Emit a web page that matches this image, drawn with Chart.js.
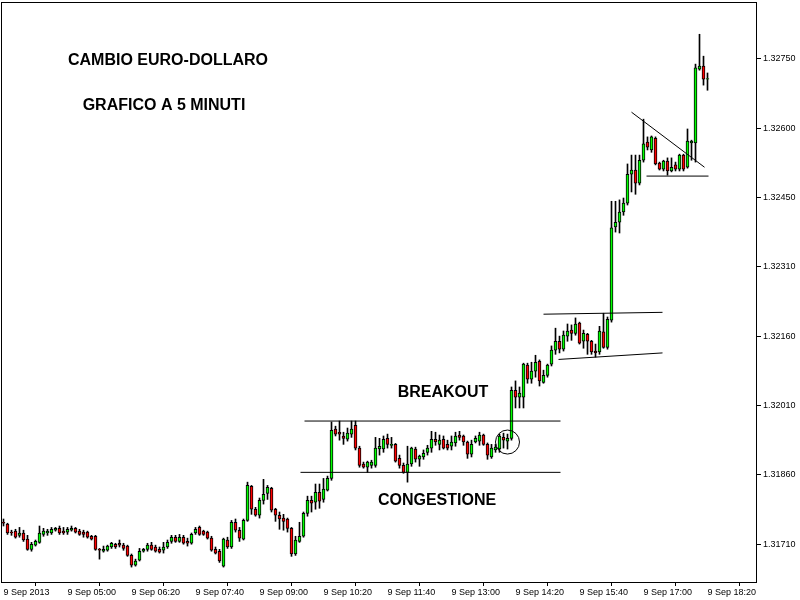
<!DOCTYPE html>
<html lang="it">
<head>
<meta charset="utf-8" />
<title>Cambio Euro-Dollaro 5 minuti</title>
<script src="https://cdn.jsdelivr.net/npm/chart.js@4.4.1/dist/chart.umd.min.js"></script>
<style>
  body { margin: 0; background: #fff; }
  canvas { display: block; }
</style>
</head>
<body>
<canvas id="eurusd" width="800" height="600"></canvas>
<script>
// candele da 5 minuti, dalle 03:40 alle 18:20 del 9 settembre 2013
var opens = [
  1.31757,1.31753,1.31736,1.31738,1.31729,1.31734,1.31721,1.31699,1.31708,1.31714,
  1.31731,1.31734,1.31734,1.31740,1.31744,1.31738,1.31736,1.31740,1.31744,1.31738,
  1.31736,1.31736,1.31727,1.31727,1.31699,1.31695,1.31697,1.31704,1.31710,1.31712,
  1.31708,1.31706,1.31686,1.31665,1.31676,1.31695,1.31699,1.31708,1.31704,1.31699,
  1.31697,1.31704,1.31716,1.31725,1.31716,1.31725,1.31716,1.31712,1.31734,1.31746,
  1.31738,1.31736,1.31723,1.31699,1.31695,1.31663,1.31719,1.31704,1.31757,1.31740,
  1.31721,1.31761,1.31834,1.31785,1.31772,1.31804,1.31819,1.31830,1.31785,1.31772,
  1.31766,1.31764,1.31744,1.31689,1.31716,1.31727,1.31776,1.31804,1.31800,1.31821,
  1.31806,1.31826,1.31851,1.31957,1.31950,1.31942,1.31935,1.31946,1.31965,1.31916,
  1.31882,1.31875,1.31879,1.31879,1.31914,1.31914,1.31937,1.31922,1.31924,1.31894,
  1.31879,1.31864,1.31882,1.31914,1.31892,1.31897,1.31907,1.31916,1.31935,1.31924,
  1.31935,1.31924,1.31920,1.31927,1.31944,1.31942,1.31929,1.31903,1.31929,1.31931,
  1.31944,1.31924,1.31897,1.31912,1.31914,1.31939,1.31931,1.31937,1.32040,1.32025,
  1.32025,1.32094,1.32064,1.32081,1.32102,1.32057,1.32072,1.32096,1.32126,1.32145,
  1.32128,1.32156,1.32169,1.32162,1.32184,1.32145,1.32160,1.32145,1.32124,1.32122,
  1.32165,1.32132,1.32190,1.32390,1.32400,1.32422,1.32441,1.32503,1.32512,1.32484,
  1.32533,1.32572,1.32555,1.32580,1.32527,1.32514,1.32531,1.32510,1.32523,1.32514,
  1.32544,1.32518,1.32570,1.32570,1.32728,1.32735,1.32707
];
var highs = [
  1.31764,1.31755,1.31740,1.31742,1.31746,1.31740,1.31729,1.31714,1.31719,1.31749,
  1.31744,1.31742,1.31746,1.31746,1.31749,1.31746,1.31746,1.31749,1.31746,1.31742,
  1.31740,1.31738,1.31729,1.31729,1.31701,1.31706,1.31708,1.31714,1.31712,1.31719,
  1.31712,1.31708,1.31689,1.31678,1.31701,1.31701,1.31712,1.31714,1.31708,1.31704,
  1.31714,1.31719,1.31729,1.31729,1.31731,1.31729,1.31723,1.31734,1.31746,1.31749,
  1.31740,1.31738,1.31727,1.31704,1.31699,1.31723,1.31725,1.31761,1.31764,1.31746,
  1.31764,1.31843,1.31836,1.31789,1.31809,1.31849,1.31836,1.31832,1.31787,1.31779,
  1.31774,1.31766,1.31746,1.31727,1.31757,1.31779,1.31813,1.31813,1.31839,1.31839,
  1.31851,1.31856,1.31972,1.31963,1.31974,1.31950,1.31959,1.31974,1.31974,1.31920,
  1.31886,1.31888,1.31890,1.31939,1.31937,1.31942,1.31946,1.31939,1.31926,1.31901,
  1.31884,1.31920,1.31918,1.31918,1.31901,1.31912,1.31922,1.31952,1.31950,1.31944,
  1.31942,1.31933,1.31942,1.31950,1.31952,1.31944,1.31931,1.31933,1.31942,1.31950,
  1.31946,1.31927,1.31924,1.31924,1.31946,1.31948,1.31946,1.32047,1.32060,1.32047,
  1.32098,1.32098,1.32100,1.32115,1.32105,1.32083,1.32096,1.32135,1.32173,1.32156,
  1.32167,1.32182,1.32180,1.32195,1.32186,1.32169,1.32162,1.32147,1.32139,1.32177,
  1.32205,1.32197,1.32445,1.32445,1.32448,1.32452,1.32525,1.32544,1.32544,1.32544,
  1.32621,1.32583,1.32585,1.32583,1.32529,1.32533,1.32538,1.32538,1.32529,1.32546,
  1.32546,1.32600,1.32576,1.32739,1.32803,1.32756,1.32720
];
var lows = [
  1.31749,1.31731,1.31729,1.31723,1.31725,1.31716,1.31697,1.31695,1.31706,1.31712,
  1.31727,1.31729,1.31731,1.31738,1.31731,1.31731,1.31731,1.31738,1.31734,1.31729,
  1.31725,1.31723,1.31719,1.31697,1.31678,1.31693,1.31695,1.31701,1.31701,1.31704,
  1.31697,1.31684,1.31661,1.31663,1.31674,1.31693,1.31695,1.31697,1.31693,1.31691,
  1.31691,1.31701,1.31712,1.31714,1.31714,1.31710,1.31706,1.31710,1.31731,1.31729,
  1.31729,1.31721,1.31695,1.31689,1.31671,1.31661,1.31701,1.31701,1.31736,1.31716,
  1.31719,1.31759,1.31774,1.31770,1.31766,1.31796,1.31806,1.31779,1.31759,1.31742,
  1.31740,1.31736,1.31684,1.31686,1.31714,1.31725,1.31770,1.31779,1.31785,1.31787,
  1.31800,1.31824,1.31847,1.31942,1.31933,1.31924,1.31931,1.31939,1.31912,1.31875,
  1.31873,1.31864,1.31873,1.31875,1.31901,1.31907,1.31916,1.31916,1.31886,1.31873,
  1.31862,1.31843,1.31877,1.31886,1.31877,1.31892,1.31901,1.31907,1.31922,1.31912,
  1.31914,1.31912,1.31912,1.31920,1.31933,1.31922,1.31894,1.31897,1.31927,1.31922,
  1.31922,1.31892,1.31894,1.31907,1.31907,1.31916,1.31914,1.31933,1.32002,1.32002,
  1.32002,1.32055,1.32055,1.32068,1.32049,1.32055,1.32068,1.32092,1.32117,1.32120,
  1.32124,1.32145,1.32147,1.32158,1.32139,1.32130,1.32117,1.32117,1.32111,1.32117,
  1.32130,1.32128,1.32186,1.32379,1.32377,1.32415,1.32437,1.32465,1.32460,1.32480,
  1.32529,1.32555,1.32550,1.32523,1.32512,1.32510,1.32501,1.32508,1.32510,1.32510,
  1.32510,1.32516,1.32533,1.32529,1.32726,1.32694,1.32683
];
var closes = [
  1.31755,1.31734,1.31734,1.31725,1.31734,1.31719,1.31699,1.31710,1.31716,1.31734,
  1.31738,1.31738,1.31742,1.31744,1.31734,1.31734,1.31742,1.31744,1.31736,1.31731,
  1.31731,1.31725,1.31721,1.31699,1.31697,1.31699,1.31706,1.31712,1.31704,1.31708,
  1.31701,1.31686,1.31665,1.31674,1.31695,1.31699,1.31708,1.31699,1.31695,1.31693,
  1.31704,1.31714,1.31725,1.31716,1.31725,1.31712,1.31712,1.31731,1.31742,1.31731,
  1.31731,1.31723,1.31697,1.31691,1.31674,1.31721,1.31704,1.31757,1.31740,1.31723,
  1.31761,1.31836,1.31785,1.31772,1.31804,1.31817,1.31832,1.31783,1.31772,1.31764,
  1.31759,1.31744,1.31689,1.31719,1.31727,1.31776,1.31804,1.31798,1.31821,1.31802,
  1.31828,1.31851,1.31954,1.31946,1.31946,1.31937,1.31948,1.31957,1.31916,1.31879,
  1.31875,1.31886,1.31886,1.31916,1.31920,1.31935,1.31924,1.31924,1.31888,1.31879,
  1.31864,1.31882,1.31916,1.31892,1.31899,1.31905,1.31916,1.31935,1.31929,1.31933,
  1.31916,1.31916,1.31929,1.31942,1.31939,1.31929,1.31903,1.31924,1.31937,1.31944,
  1.31924,1.31901,1.31916,1.31918,1.31942,1.31933,1.31937,1.32040,1.32025,1.32034,
  1.32096,1.32064,1.32081,1.32100,1.32060,1.32072,1.32094,1.32126,1.32145,1.32128,
  1.32158,1.32167,1.32162,1.32182,1.32141,1.32162,1.32145,1.32122,1.32120,1.32167,
  1.32132,1.32192,1.32388,1.32400,1.32422,1.32441,1.32503,1.32512,1.32484,1.32533,
  1.32568,1.32561,1.32583,1.32525,1.32514,1.32531,1.32510,1.32518,1.32514,1.32544,
  1.32514,1.32574,1.32574,1.32731,1.32735,1.32707,1.32708
];

// etichette asse tempo, una ogni 16 candele
var timeLabels = ["9 Sep 2013","9 Sep 05:00","9 Sep 06:20","9 Sep 07:40","9 Sep 09:00","9 Sep 10:20",
                  "9 Sep 11:40","9 Sep 13:00","9 Sep 14:20","9 Sep 15:40","9 Sep 17:00","9 Sep 18:20"];
var barsPerLabel = 16;
// etichette prezzo (equidistanti fra la prima e l'ultima)
var priceLabels = ["1.32750","1.32600","1.32450","1.32310","1.32160","1.32010","1.31860","1.31710"];

// linee disegnate sul grafico (indice candela, prezzo)
var congestioneTop = [{x:75.25, y:1.31974}, {x:139.25, y:1.31974}];
var congestioneBottom = [{x:74.25, y:1.31864}, {x:139.25, y:1.31864}];
var canaleTop = [{x:135, y:1.32203}, {x:164.75, y:1.32207}];
var canaleBottom = [{x:138.75, y:1.32106}, {x:164.75, y:1.32120}];
var triangoloDiag = [{x:157, y:1.32636}, {x:175.25, y:1.32518}];
var triangoloBase = [{x:160.75, y:1.32499}, {x:176.25, y:1.32499}];
var cerchioBreakout = [{x:126, y:1.31929}];

var wicks = [], bodies = [], bodyColors = [];
for (var i = 0; i < opens.length; i++) {
    wicks.push({x: i, y: [lows[i], highs[i]]});
    bodies.push({x: i, y: [opens[i], closes[i]]});
    bodyColors.push(closes[i] >= opens[i] ? '#00ff00' : '#ff0000');
}

function lineSet(pts) {
    return { type: 'line', data: pts, borderColor: '#000', borderWidth: 1,
             pointRadius: 0, fill: false, tension: 0 };
}

// niente padding extra calcolato dalle etichette
function noPad(scale) {
    scale.paddingLeft = 0; scale.paddingRight = 0;
    scale.paddingTop = 0; scale.paddingBottom = 0;
}

var textPlugin = {
    id: 'frameAndText',
    afterDraw: function(chart) {
        var ctx = chart.ctx, a = chart.chartArea;
        ctx.save();
        ctx.strokeStyle = '#000';
        ctx.lineWidth = 1;
        ctx.strokeRect(a.left - 0.5, a.top - 0.5, a.right - a.left + 1, a.bottom - a.top + 1);
        ctx.fillStyle = '#000';
        ctx.font = 'bold 16px "Liberation Sans", Arial, sans-serif';
        ctx.textAlign = 'center';
        ctx.textBaseline = 'middle';
        ctx.fillText('CAMBIO EURO-DOLLARO', 168, 61);
        ctx.fillText('GRAFICO A 5 MINUTI', 164, 106);
        ctx.fillText('BREAKOUT', 443, 393);
        ctx.fillText('CONGESTIONE', 437, 501);
        ctx.restore();
    }
};

var yTop = parseFloat(priceLabels[0]);
var yBottom = parseFloat(priceLabels[priceLabels.length - 1]);
var yStep = (yTop - yBottom) / (priceLabels.length - 1);
var axisFont = { family: '"Liberation Sans", Arial, sans-serif', size: 9 };

var ctx = document.getElementById('eurusd').getContext('2d');
var chart = new Chart(ctx, {
    type: 'bar',
    data: {
        datasets: [
            { data: wicks, backgroundColor: '#000', barThickness: 1, grouped: false, order: 2 },
            { data: bodies, backgroundColor: bodyColors, borderColor: '#000', borderWidth: 1,
              borderSkipped: false, barThickness: 3, grouped: false, order: 1 },
            lineSet(congestioneTop),
            lineSet(congestioneBottom),
            lineSet(canaleTop),
            lineSet(canaleBottom),
            lineSet(triangoloDiag),
            lineSet(triangoloBase),
            { type: 'line', data: cerchioBreakout, showLine: false, pointRadius: 12,
              pointBackgroundColor: 'rgba(0,0,0,0)', pointBorderColor: '#000', pointBorderWidth: 1 }
        ]
    },
    options: {
        responsive: false,
        animation: false,
        layout: { autoPadding: false, padding: { left: 2, top: 3, right: 0, bottom: 0 } },
        plugins: { legend: { display: false }, tooltip: { enabled: false } },
        scales: {
            x: {
                type: 'linear',
                min: -0.375,
                max: 188.125,
                offset: false,
                afterBuildTicks: function(scale) {
                    scale.ticks = timeLabels.map(function(_, k) { return { value: k * barsPerLabel }; });
                },
                afterFit: function(scale) { scale.height = 18; noPad(scale); },
                ticks: {
                    autoSkip: false, maxRotation: 0, align: 'start', padding: 1,
                    color: '#000', font: axisFont,
                    callback: function(v, k) { return timeLabels[k]; }
                },
                grid: { drawOnChartArea: false, tickLength: 4, color: '#000' },
                border: { display: false }
            },
            y: {
                position: 'right',
                min: 1.31629,
                max: 1.32870,
                afterBuildTicks: function(scale) {
                    scale.ticks = priceLabels.map(function(_, k) { return { value: yTop - k * yStep }; });
                },
                afterFit: function(scale) { scale.width = 44; noPad(scale); },
                ticks: {
                    padding: 2, color: '#000', font: axisFont,
                    callback: function(v, k) { return priceLabels[k]; }
                },
                grid: { drawOnChartArea: false, tickLength: 5, color: '#000' },
                border: { display: false }
            }
        }
    },
    plugins: [textPlugin]
});
</script>
</body>
</html>
